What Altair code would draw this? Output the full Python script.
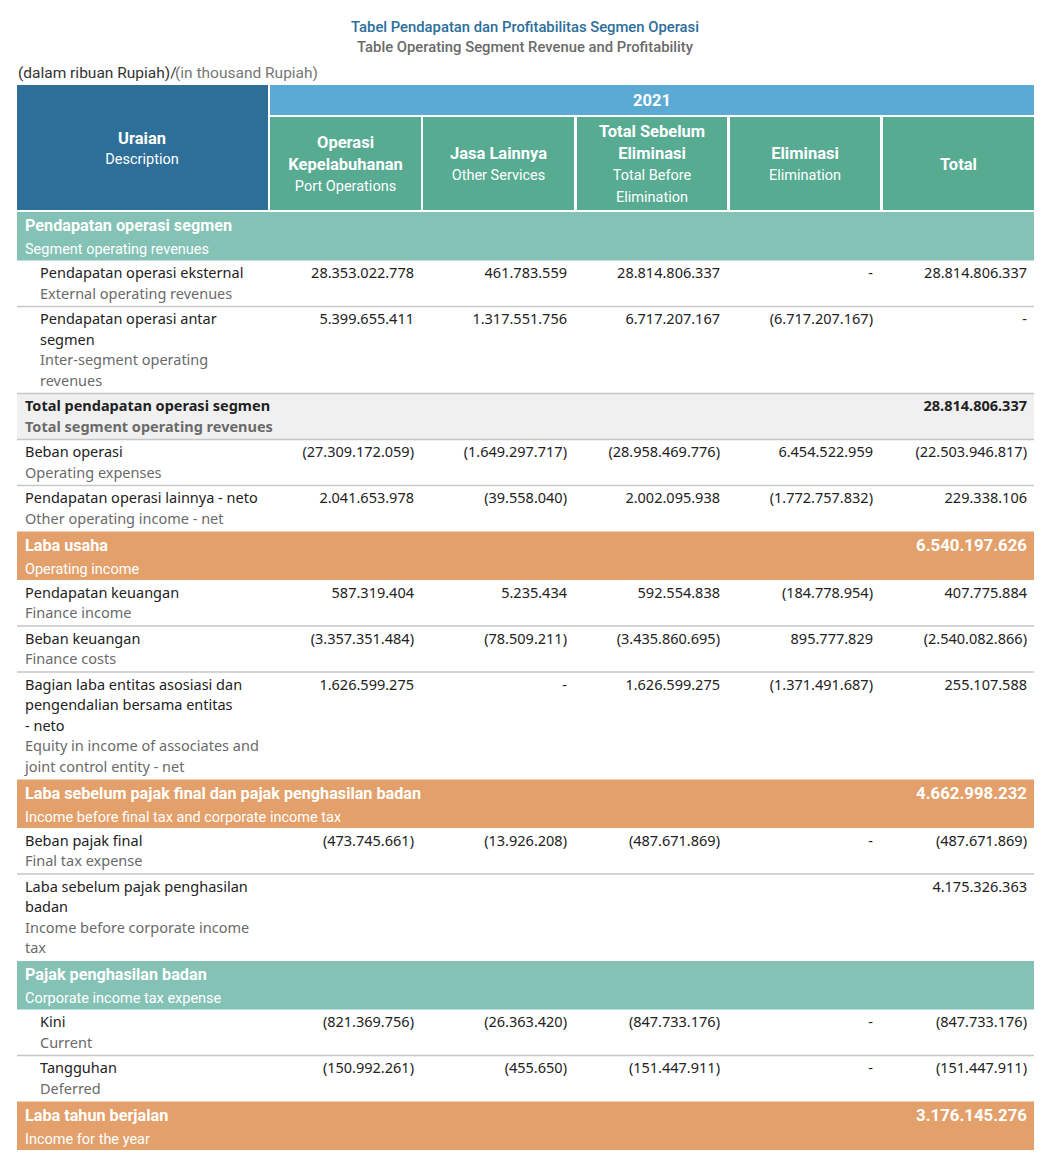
import altair as alt
import pandas as pd

# ---------------- data ----------------
title_id = "Tabel Pendapatan dan Profitabilitas Segmen Operasi"
title_en = "Table Operating Segment Revenue and Profitability"
unit_id = "(dalam ribuan Rupiah)/"
unit_en = "(in thousand Rupiah)"
year_label = "2021"
desc_header = ["Uraian", "Description"]
col_headers_id = [["Operasi", "Kepelabuhanan"], ["Jasa Lainnya"], ["Total Sebelum", "Eliminasi"], ["Eliminasi"], ["Total"]]
col_headers_en = [["Port Operations"], ["Other Services"], ["Total Before", "Elimination"], ["Elimination"], []]

row_kinds = ["teal", "indent", "indent", "total", "normal", "normal", "orange", "normal", "normal",
             "normal", "orange", "normal", "normal", "teal", "indent", "indent", "orange"]
labels_id = [
    ["Pendapatan operasi segmen"],
    ["Pendapatan operasi eksternal"],
    ["Pendapatan operasi antar", "segmen"],
    ["Total pendapatan operasi segmen"],
    ["Beban operasi"],
    ["Pendapatan operasi lainnya - neto"],
    ["Laba usaha"],
    ["Pendapatan keuangan"],
    ["Beban keuangan"],
    ["Bagian laba entitas asosiasi dan", "pengendalian bersama entitas", "- neto"],
    ["Laba sebelum pajak final dan pajak penghasilan badan"],
    ["Beban pajak final"],
    ["Laba sebelum pajak penghasilan", "badan"],
    ["Pajak penghasilan badan"],
    ["Kini"],
    ["Tangguhan"],
    ["Laba tahun berjalan"],
]
labels_en = [
    ["Segment operating revenues"],
    ["External operating revenues"],
    ["Inter-segment operating", "revenues"],
    ["Total segment operating revenues"],
    ["Operating expenses"],
    ["Other operating income - net"],
    ["Operating income"],
    ["Finance income"],
    ["Finance costs"],
    ["Equity in income of associates and", "joint control entity - net"],
    ["Income before final tax and corporate income tax"],
    ["Final tax expense"],
    ["Income before corporate income", "tax"],
    ["Corporate income tax expense"],
    ["Current"],
    ["Deferred"],
    ["Income for the year"],
]
N = None
col_port = [N, 28353022778, 5399655411, N, -27309172059, 2041653978, N, 587319404, -3357351484,
            1626599275, N, -473745661, N, N, -821369756, -150992261, N]
col_other = [N, 461783559, 1317551756, N, -1649297717, -39558040, N, 5235434, -78509211,
             0, N, -13926208, N, N, -26363420, -455650, N]
col_before = [N, 28814806337, 6717207167, N, -28958469776, 2002095938, N, 592554838, -3435860695,
              1626599275, N, -487671869, N, N, -847733176, -151447911, N]
col_elim = [N, 0, -6717207167, N, 6454522959, -1772757832, N, -184778954, 895777829,
            -1371491687, N, 0, N, N, 0, 0, N]
col_total = [N, 28814806337, 0, 28814806337, -22503946817, 229338106, 6540197626, 407775884, -2540082866,
             255107588, 4662998232, -487671869, 4175326363, N, -847733176, -151447911, 3176145276]
columns = [col_port, col_other, col_before, col_elim, col_total]


def fmt(v):
    if v is None:
        return None
    if v == 0:
        return "-"
    s = format(abs(v), ",").replace(",", ".")
    return "(" + s + ")" if v < 0 else s


# ---------------- layout ----------------
C_DARKBLUE = "#2e6f9a"
C_LIGHTBLUE = "#5aaad3"
C_GREEN = "#56ab91"
C_TEAL = "#83c2b5"
C_ORANGE = "#e3a06a"
C_GRAY = "#f0f0f0"
C_LINE = "#c6c6c6"
C_TEXT = "#222222"
C_SUB = "#6a6a6a"

LEFT, RIGHT = 17, 1034
col_edges = [(270, 421), (423, 574), (577, 727), (730, 880), (883, 1034)]

rects, rules, texts = [], [], []


def T(x, y, text, color=C_TEXT, size=14.5, align="left", font="Noto Sans", weight="normal"):
    texts.append(dict(x=x, y=y, text=text, color=color, size=size, align=align, font=font, weight=weight))


# titles
T(525, 28, title_id, "#2b6e9b", 14.8, "center", "Roboto", 500)
T(525, 48, title_en, "#6a6a6a", 14.8, "center", "Roboto", 500)
T(18, 73, unit_id, "#333333", 15.5, "left", "Roboto", "normal")
T(175, 73, unit_en, "#777777", 15.5, "left", "Roboto", "normal")

# header
rects.append(dict(x=LEFT, x2=268, y=85, y2=210, color=C_DARKBLUE))
rects.append(dict(x=270, x2=RIGHT, y=85, y2=115, color=C_LIGHTBLUE))
T(652, 101, year_label, "white", 16.5, "center", "Roboto", "bold")
T(142, 139, desc_header[0], "white", 16.5, "center", "Roboto", "bold")
T(142, 160, desc_header[1], "white", 14.5, "center", "Roboto", "normal")
for i, (a, b) in enumerate(col_edges):
    rects.append(dict(x=a, x2=b, y=117, y2=210, color=C_GREEN))
    lines = [(s, "bold") for s in col_headers_id[i]] + [(s, "normal") for s in col_headers_en[i]]
    n = len(lines)
    cy = 165
    for k, (s, w) in enumerate(lines):
        yy = cy + (k - (n - 1) / 2) * 21.7
        T((a + b) / 2, yy, s, "white", 16.5 if w == "bold" else 14.5, "center", "Roboto", w)

# body
y = 212.0
LS = 20.5
for r, kind in enumerate(row_kinds):
    ids, ens = labels_id[r], labels_en[r]
    if kind in ("teal", "orange"):
        h = 48.5
        rects.append(dict(x=LEFT, x2=RIGHT, y=y, y2=y + h, color=C_TEAL if kind == "teal" else C_ORANGE))
        T(25, y + 14, ids[0], "white", 16.2, "left", "Roboto", "bold")
        T(25, y + 38, ens[0], "white", 14.5, "left", "Roboto", "normal")
        v = fmt(col_total[r])
        if v:
            T(1027, y + 14, v, "white", 16.8, "right", "Roboto", "bold")
        y += h
        continue
    nl = len(ids) + len(ens)
    h = nl * LS + 5
    if kind == "total":
        rects.append(dict(x=LEFT, x2=RIGHT, y=y, y2=y + h, color=C_GRAY))
    x0 = 40 if kind == "indent" else 25
    w = "bold" if kind == "total" else "normal"
    k = 0
    for s in ids:
        T(x0, y + 13.8 + k * LS, s, C_TEXT, 14.5, "left", "Noto Sans", w)
        k += 1
    for s in ens:
        T(x0, y + 13.8 + k * LS, s, C_SUB, 14.5, "left", "Noto Sans", w)
        k += 1
    for c, (a, b) in enumerate(col_edges):
        v = fmt(columns[c][r])
        if v:
            T(b - 7, y + 13.8, v, C_TEXT, 14.5, "right", "Noto Sans", w)
    y += h
    nxt = row_kinds[r + 1] if r + 1 < len(row_kinds) else None
    if nxt not in ("teal", "orange"):
        rules.append(dict(x=LEFT, x2=RIGHT, y=y, color=C_LINE))

rect_df = pd.DataFrame(rects)
rule_df = pd.DataFrame(rules)
text_df = pd.DataFrame(texts)
text_df["weight"] = text_df["weight"].astype(str)

xs = alt.Scale(domain=[8, 1042], nice=False, zero=False)
ys = alt.Scale(domain=[8, 1164], nice=False, zero=False, reverse=True)

rect_layer = alt.Chart(rect_df).mark_rect().encode(
    x=alt.X("x:Q", scale=xs, axis=None),
    x2="x2:Q",
    y=alt.Y("y:Q", scale=ys, axis=None),
    y2="y2:Q",
    color=alt.Color("color:N", scale=None),
)
rule_layer = alt.Chart(rule_df).mark_rule(strokeWidth=1.3).encode(
    x=alt.X("x:Q", scale=xs, axis=None),
    x2="x2:Q",
    y=alt.Y("y:Q", scale=ys, axis=None),
    color=alt.Color("color:N", scale=None),
)

layers = [rect_layer, rule_layer]
for (align, font, weight), g in text_df.groupby(["align", "font", "weight"]):
    fw = int(weight) if weight.isdigit() else weight
    layers.append(
        alt.Chart(g.reset_index(drop=True)).mark_text(
            align=align, baseline="middle", font=font, fontWeight=fw
        ).encode(
            x=alt.X("x:Q", scale=xs, axis=None),
            y=alt.Y("y:Q", scale=ys, axis=None),
            text="text:N",
            color=alt.Color("color:N", scale=None),
            size=alt.Size("size:Q", scale=None),
        )
    )

chart = alt.layer(*layers).properties(
    width=1034, height=1156, padding=0,
    autosize=alt.AutoSizeParams(type="none"),
).configure_view(strokeWidth=0)

chart.save("out.html", embed_options={"renderer": "svg", "actions": False})
